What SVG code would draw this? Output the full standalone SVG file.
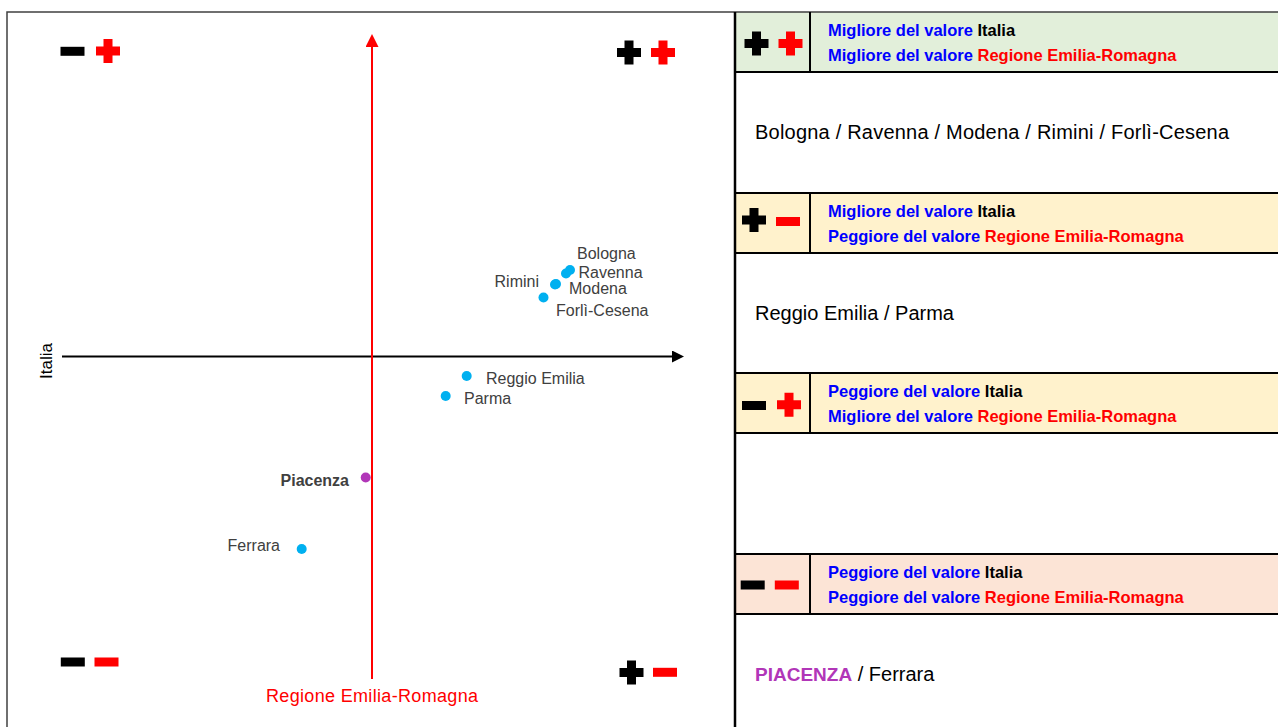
<svg xmlns="http://www.w3.org/2000/svg" width="1278" height="727" viewBox="0 0 1278 727">
<style>
.lbl{font-family:"Liberation Sans",Arial,sans-serif;font-size:16px;fill:#404040}
.row{font-family:"Liberation Sans",Arial,sans-serif;font-size:20px;fill:#000}
.hd{font-family:"Liberation Sans",Arial,sans-serif;font-size:16.5px;font-weight:bold}
.b{fill:#0000FF}.k{fill:#000}.r{fill:#FF0000}
.dot{fill:#00B0F0}
.tl{stroke:#000;stroke-width:2;fill:none}
</style>
<defs>
<path id="plus" d="M-4.5,-12h9v7.5h7.5v9h-7.5v7.5h-9v-7.5h-7.5v-9h7.5z"/>
<rect id="minus" x="-12" y="-4.5" width="24" height="9"/>
<marker id="arrK" viewBox="0 0 12 12" markerWidth="12" markerHeight="12" refX="4" refY="6" orient="auto" markerUnits="userSpaceOnUse"><path d="M0,0L12,6L0,12z" fill="#000"/></marker>
<marker id="arrR" viewBox="0 0 13 13" markerWidth="13" markerHeight="13" refX="5" refY="6.5" orient="auto" markerUnits="userSpaceOnUse"><path d="M0,0L13,6.5L0,13z" fill="#FF0000"/></marker>
</defs>
<rect width="1278" height="727" fill="#fff"/>

<g id="table-fills">
<rect x="735" y="12" width="543" height="60" fill="#E2EFDA"/>
<rect x="735" y="193" width="543" height="60" fill="#FFF2CC"/>
<rect x="735" y="373" width="543" height="60" fill="#FFF2CC"/>
<rect x="735" y="554" width="543" height="60" fill="#FCE4D6"/>
</g>

<g id="frame">
<path d="M7,727V12H1278" fill="none" stroke="#404040" stroke-width="1.5"/>
<path class="tl" d="M735,72H1278M735,193H1278M735,253H1278M735,373H1278M735,433H1278M735,554H1278M735,614H1278"/>
<path class="tl" d="M810,12V72M810,193V253M810,373V433M810,554V614"/>
<path d="M735,12V727" stroke="#000" stroke-width="2.5"/>
</g>

<g id="connectors">
<line x1="62" y1="356.5" x2="676" y2="356.5" stroke="#000" stroke-width="1.8" marker-end="url(#arrK)"/>
<line x1="372" y1="679" x2="372" y2="42" stroke="#FF0000" stroke-width="2" marker-end="url(#arrR)"/>
</g>

<g id="axis-labels">
<text transform="translate(52,361) rotate(-90)" text-anchor="middle" font-family="Liberation Sans, Arial, sans-serif" font-size="17" fill="#000">Italia</text>
<text x="372" y="702" text-anchor="middle" font-family="Liberation Sans, Arial, sans-serif" font-size="18" fill="#FF0000" textLength="212">Regione Emilia-Romagna</text>
</g>

<g id="quadrant-tl"><use href="#minus" x="72.5" y="51.3" fill="#000"/><use href="#plus" x="108" y="51" fill="#FF0000"/></g>
<g id="quadrant-tr"><use href="#plus" x="629" y="52.5" fill="#000"/><use href="#plus" x="663" y="52.5" fill="#FF0000"/></g>
<g id="quadrant-bl"><use href="#minus" x="72.8" y="662" fill="#000"/><use href="#minus" x="106.5" y="662" fill="#FF0000"/></g>
<g id="quadrant-br"><use href="#plus" x="631.5" y="672.5" fill="#000"/><use href="#minus" x="665" y="672.3" fill="#FF0000"/></g>

<g id="pt-bologna"><circle class="dot" cx="570" cy="270" r="5"/><text class="lbl" x="577" y="259">Bologna</text></g>
<g id="pt-ravenna"><circle class="dot" cx="566" cy="273.5" r="5"/><text class="lbl" x="578.5" y="278">Ravenna</text></g>
<g id="pt-modena"><circle class="dot" cx="556" cy="284" r="5"/><text class="lbl" x="569" y="294">Modena</text></g>
<g id="pt-rimini"><circle class="dot" cx="555" cy="284.5" r="5"/><text class="lbl" x="539" y="287" text-anchor="end">Rimini</text></g>
<g id="pt-forli"><circle class="dot" cx="543.5" cy="297.5" r="5"/><text class="lbl" x="556" y="316">Forlì-Cesena</text></g>
<g id="pt-reggio"><circle class="dot" cx="466.7" cy="376" r="5"/><text class="lbl" x="486" y="383.5">Reggio Emilia</text></g>
<g id="pt-parma"><circle class="dot" cx="445.7" cy="396" r="5"/><text class="lbl" x="464" y="403.5">Parma</text></g>
<g id="pt-piacenza"><circle cx="365.7" cy="477.5" r="5" fill="#B136B8"/><text class="lbl" x="349" y="486" text-anchor="end" font-weight="bold">Piacenza</text></g>
<g id="pt-ferrara"><circle class="dot" cx="301.7" cy="549" r="5"/><text class="lbl" x="280" y="551" text-anchor="end">Ferrara</text></g>

<g id="row-pp">
<use href="#plus" x="756.5" y="43.5" fill="#000"/><use href="#plus" x="790.5" y="43.5" fill="#FF0000"/>
<text class="hd" x="828" y="36"><tspan class="b">Migliore del valore </tspan><tspan class="k">Italia</tspan></text>
<text class="hd" x="828" y="61"><tspan class="b">Migliore del valore </tspan><tspan class="r">Regione Emilia-Romagna</tspan></text>
<text class="row" x="755" y="139" textLength="474">Bologna / Ravenna / Modena / Rimini / Forlì-Cesena</text>
</g>
<g id="row-pm">
<use href="#plus" x="754" y="220" fill="#000"/><use href="#minus" x="788" y="221.5" fill="#FF0000"/>
<text class="hd" x="828" y="217"><tspan class="b">Migliore del valore </tspan><tspan class="k">Italia</tspan></text>
<text class="hd" x="828" y="242"><tspan class="b">Peggiore del valore </tspan><tspan class="r">Regione Emilia-Romagna</tspan></text>
<text class="row" x="755" y="320">Reggio Emilia / Parma</text>
</g>
<g id="row-mp">
<use href="#minus" x="754" y="405.5" fill="#000"/><use href="#plus" x="789" y="404.7" fill="#FF0000"/>
<text class="hd" x="828" y="397"><tspan class="b">Peggiore del valore </tspan><tspan class="k">Italia</tspan></text>
<text class="hd" x="828" y="422"><tspan class="b">Migliore del valore </tspan><tspan class="r">Regione Emilia-Romagna</tspan></text>
</g>
<g id="row-mm">
<use href="#minus" x="752.7" y="585" fill="#000"/><use href="#minus" x="786.8" y="585" fill="#FF0000"/>
<text class="hd" x="828" y="578"><tspan class="b">Peggiore del valore </tspan><tspan class="k">Italia</tspan></text>
<text class="hd" x="828" y="603"><tspan class="b">Peggiore del valore </tspan><tspan class="r">Regione Emilia-Romagna</tspan></text>
<text class="row" x="755" y="681"><tspan font-weight="bold" fill="#B136B8" font-size="19">PIACENZA</tspan> / Ferrara</text>
</g>
</svg>
